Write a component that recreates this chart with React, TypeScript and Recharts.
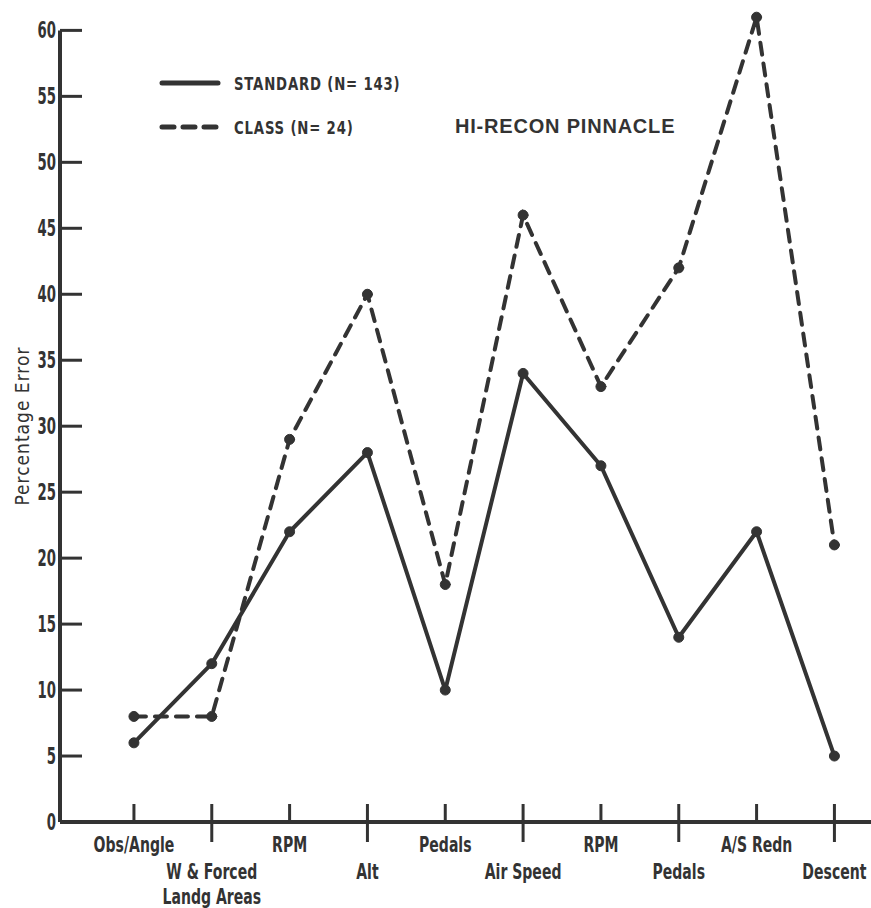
import React from 'react';
import { LineChart, Line, XAxis, YAxis, Legend, ReferenceLine } from 'recharts';

// category labels (index on the x axis), split into lines
const categories = [
  ['Obs/Angle'],
  ['W & Forced', 'Landg Areas'],
  ['RPM'],
  ['Alt'],
  ['Pedals'],
  ['Air Speed'],
  ['RPM'],
  ['Pedals'],
  ['A/S Redn'],
  ['Descent'],
];

const standardValues = [6, 12, 22, 28, 10, 34, 27, 14, 22, 5];
const classValues = [8, 8, 29, 40, 18, 46, 33, 42, 61, 21];

const yTicks = [0, 5, 10, 15, 20, 25, 30, 35, 40, 45, 50, 55, 60];
const xTicks = [0, 1, 2, 3, 4, 5, 6, 7, 8, 9];

const seriesOrder = ['standard', 'klass'];
const chartTitle = 'HI-RECON PINNACLE';
const yLabel = 'Percentage Error';

const data = categories.map((c, i) => ({
  idx: i,
  standard: standardValues[i],
  klass: classValues[i],
}));

const INK = '#333333';
const NARROW = '"Liberation Sans Narrow", "DejaVu Sans Condensed", "Arial Narrow", sans-serif';

// squeezed text, the scan uses a very narrow face
const Narrow = ({ x, y, anchor, size, squeeze, children, spacing, weight }: any) => (
  <g transform={`translate(${x}, ${y}) scale(${squeeze}, 1)`}>
    <text x={0} y={0} textAnchor={anchor} fill={INK} fontSize={size} fontWeight={weight || 'bold'} fontFamily={NARROW} letterSpacing={spacing || 0}>
      {children}
    </text>
  </g>
);

const YTick = (props: any) => {
  const { x, y, payload } = props;
  return (
    <g>
      <line x1={x} x2={x + 22} y1={y} y2={y} stroke={INK} strokeWidth={3} />
      <Narrow x={x - 4} y={y + 8} anchor="end" size={23} squeeze={0.64}>
        {payload.value}
      </Narrow>
    </g>
  );
};

const XTick = (props: any) => {
  const { x, y, payload } = props;
  const i = payload.value as number;
  const lines = categories[i] || [];
  const lower = i % 2 === 1;
  return (
    <g>
      <line x1={x} x2={x} y1={y - 18} y2={lower ? y + 20 : y} stroke={INK} strokeWidth={3} />
      {lines.map((t, k) => (
        <Narrow key={k} x={x} y={(lower ? y + 57 : y + 30) + k * 25} anchor="middle" size={22} squeeze={0.71}>
          {t}
        </Narrow>
      ))}
    </g>
  );
};

const LegendBox = (props: any) => {
  const payload = [...(props.payload || [])].sort(
    (a: any, b: any) => seriesOrder.indexOf(a.dataKey) - seriesOrder.indexOf(b.dataKey)
  );
  return (
    <svg width={871} height={150} style={{ display: 'block' }}>
      {payload.map((p: any, i: number) => {
        const y = 83 + i * 44;
        const dashed = p.payload && p.payload.strokeDasharray;
        return (
          <g key={p.value}>
            <line
              x1={162}
              x2={218}
              y1={y}
              y2={y}
              stroke={INK}
              strokeWidth={5}
              strokeLinecap="round"
              strokeDasharray={dashed ? '12 9' : undefined}
            />
            <Narrow x={234} y={y + 7} anchor="start" size={18} squeeze={0.82} spacing={1}>
              {p.value}
            </Narrow>
          </g>
        );
      })}
      <text x={455} y={133} fill={INK} fontSize={20} fontWeight="bold" fontFamily='"Liberation Sans", Arial, sans-serif' letterSpacing={0.8}>
        {chartTitle}
      </text>
    </svg>
  );
};

const YTitle = (props: any) => {
  const vb = props.viewBox || { x: 0, y: 0, height: 0 };
  const cx = vb.x + 22;
  const cy = vb.y + vb.height * 0.516;
  return (
    <text
      x={cx}
      y={cy}
      transform={`rotate(-90, ${cx}, ${cy})`}
      textAnchor="middle"
      dominantBaseline="central"
      fill={INK}
      fontSize={19}
      letterSpacing={1}
      fontFamily={NARROW}
    >
      {yLabel}
    </text>
  );
};

export default function App() {
  return (
    <div style={{ position: 'absolute', left: 0, top: 0, width: 871, height: 908, background: '#fff' }}>
      <LineChart width={871} height={908} data={data} margin={{ top: 4, right: 0, bottom: 0, left: 0 }}>
        <XAxis
          dataKey="idx"
          type="number"
          domain={[-0.95, 9.47]}
          ticks={xTicks}
          interval={0}
          height={86}
          tickSize={0}
          tickMargin={0}
          tickLine={false}
          axisLine={{ stroke: INK, strokeWidth: 4 }}
          tick={<XTick />}
        />
        <YAxis
          type="number"
          domain={[0, 62]}
          ticks={yTicks}
          interval={0}
          width={60}
          tickSize={0}
          tickMargin={0}
          tickLine={false}
          axisLine={false}
          tick={<YTick />}
          label={<YTitle />}
        />
        <ReferenceLine
          segment={[{ x: -0.95, y: 0 }, { x: -0.95, y: 60 }]}
          stroke={INK}
          strokeWidth={4}
        />
        <Legend
          layout="horizontal"
          verticalAlign="middle"
          align="center"
          wrapperStyle={{ left: 0, top: 0, width: 871, height: 150 }}
          content={<LegendBox />}
        />
        <Line
          name="STANDARD (N= 143)"
          dataKey="standard"
          stroke={INK}
          strokeWidth={4}
          strokeLinejoin="round"
          dot={{ r: 5, fill: INK, stroke: INK, strokeWidth: 1, strokeDasharray: 'none' }}
          isAnimationActive={false}
        />
        <Line
          name="CLASS (N= 24)"
          dataKey="klass"
          stroke={INK}
          strokeWidth={4}
          strokeDasharray="12 9"
          strokeLinecap="round"
          dot={{ r: 5, fill: INK, stroke: INK, strokeWidth: 1, strokeDasharray: 'none' }}
          isAnimationActive={false}
        />
      </LineChart>
    </div>
  );
}
